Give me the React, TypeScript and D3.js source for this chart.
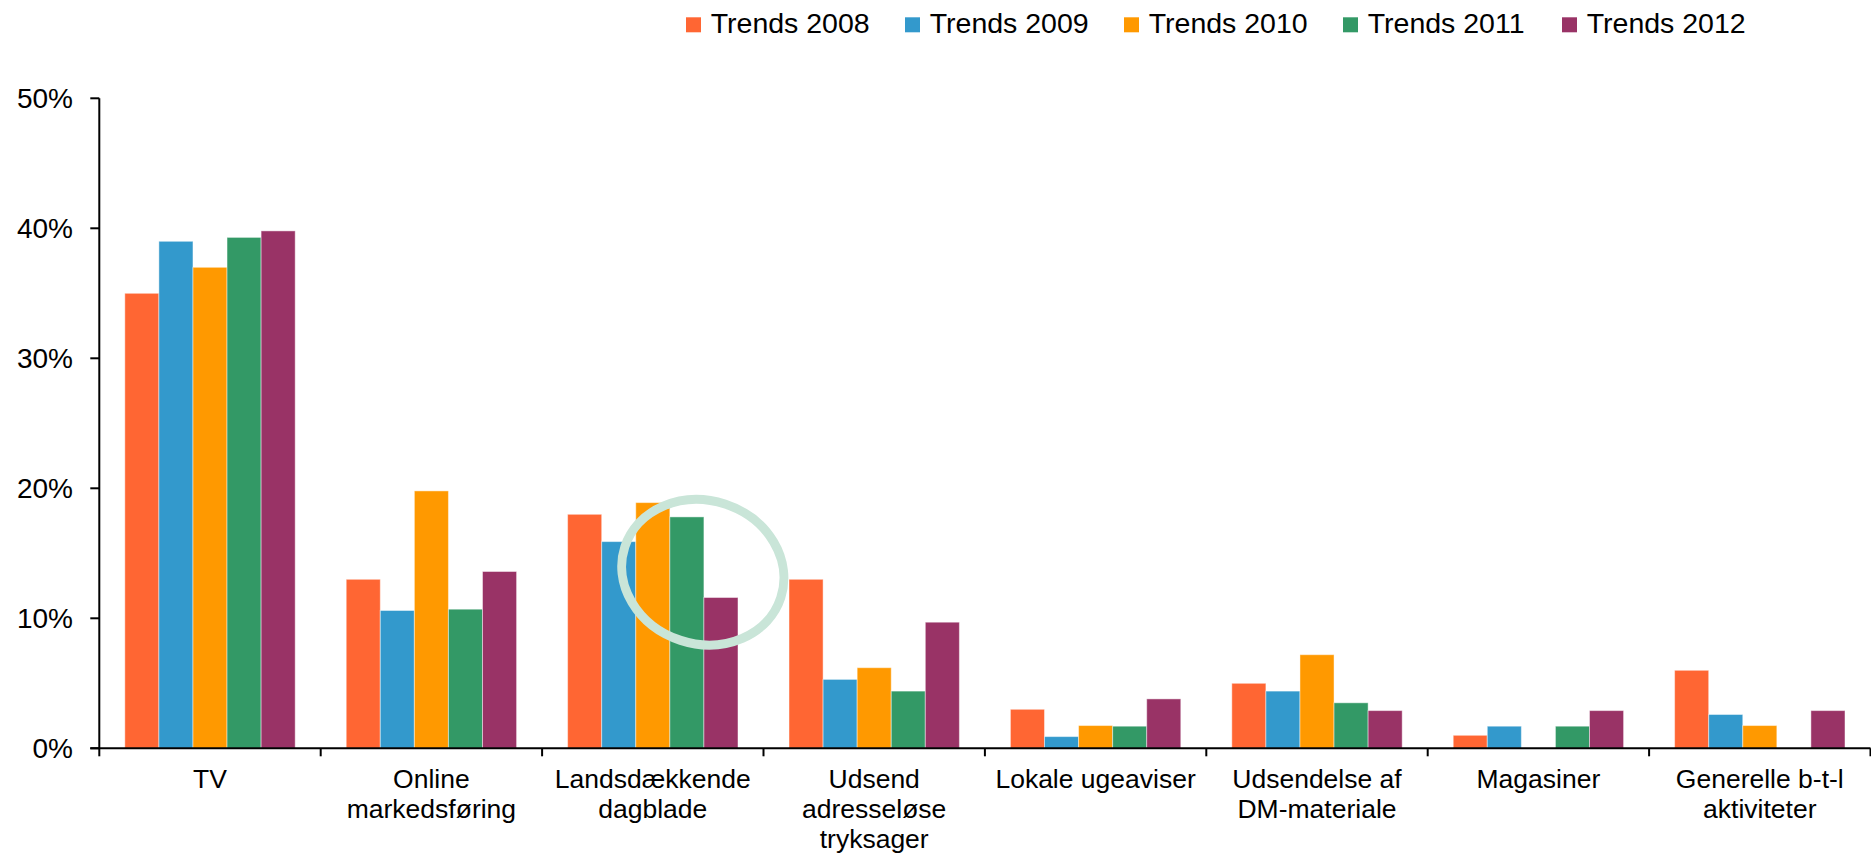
import React from "react";
import * as d3 from "d3";

const categories: string[][] = [
  ["TV"],
  ["Online", "markedsføring"],
  ["Landsdækkende", "dagblade"],
  ["Udsend", "adresseløse", "tryksager"],
  ["Lokale ugeaviser"],
  ["Udsendelse af", "DM-materiale"],
  ["Magasiner"],
  ["Generelle b-t-l", "aktiviteter"],
];

const seriesNames = ["Trends 2008", "Trends 2009", "Trends 2010", "Trends 2011", "Trends 2012"];
const seriesColors = ["#FF6633", "#3399CC", "#FF9900", "#339966", "#993366"];

const trends2008 = [35, 13, 18, 13, 3, 5, 1, 6];
const trends2009 = [39, 10.6, 15.9, 5.3, 0.9, 4.4, 1.7, 2.6];
const trends2010 = [37, 19.8, 18.9, 6.2, 1.75, 7.2, 0, 1.75];
const trends2011 = [39.3, 10.7, 17.8, 4.4, 1.7, 3.5, 1.7, 0];
const trends2012 = [39.8, 13.6, 11.6, 9.7, 3.8, 2.9, 2.9, 2.9];

const seriesValues = [trends2008, trends2009, trends2010, trends2011, trends2012];
const yTicks = [0, 10, 20, 30, 40, 50];

const W = 1871;
const H = 856;
const x0 = 99.3;
const x1 = 1870.5;
const yBottom = 748.3;
const yTop = 98.3;
const FONT = "'Liberation Sans', Arial, Helvetica, sans-serif";

export default function App() {
  const idx = categories.map((_, i) => String(i));
  const x = d3.scaleBand<string>().domain(idx).range([x0, x1]).paddingInner(0.2305).paddingOuter(0.11525);
  const xs = d3.scaleBand<string>().domain(seriesNames).range([0, x.bandwidth()]);
  const y = d3.scaleLinear().domain([0, 50]).range([yBottom, yTop]);
  const step = (x1 - x0) / categories.length;
  const tickXs = d3.range(categories.length + 1).map((i) => x0 + i * step);

  return (
    <svg width={W} height={H} style={{ position: "absolute", left: 0, top: 0, background: "#fff" }} fontFamily={FONT}>
      <rect width={W} height={H} fill="#fff" />
      {/* bars */}
      {categories.map((_, ci) => (
        <g key={ci} transform={`translate(${x(String(ci))},0)`}>
          {seriesNames.map((s, si) => {
            const v = seriesValues[si][ci];
            if (!v) return null;
            return (
              <rect
                key={s}
                x={xs(s)}
                y={y(v)}
                width={xs.bandwidth()}
                height={yBottom - y(v)}
                fill={seriesColors[si]}
                stroke="rgba(255,255,255,0.45)"
                strokeWidth={1}
              />
            );
          })}
        </g>
      ))}
      {/* y axis */}
      <line x1={x0} x2={x0} y1={yTop} y2={yBottom} stroke="#000" strokeWidth={2} />
      {yTicks.map((t) => (
        <g key={t}>
          <line x1={x0 - 9} x2={x0} y1={y(t)} y2={y(t)} stroke="#000" strokeWidth={2} />
          <text x={73} y={y(t)} dy="0.36em" textAnchor="end" fontSize={28} fill="#000">
            {t}%
          </text>
        </g>
      ))}
      {/* x axis */}
      <line x1={x0 - 9} x2={x1} y1={yBottom} y2={yBottom} stroke="#000" strokeWidth={2} />
      {tickXs.map((tx, i) => (
        <line key={i} x1={tx} x2={tx} y1={yBottom} y2={yBottom + 8} stroke="#000" strokeWidth={2} />
      ))}
      {categories.map((lines, ci) => (
        <text key={ci} textAnchor="middle" fontSize={26.5} fill="#000">
          {lines.map((ln, li) => (
            <tspan key={li} x={(x(String(ci)) as number) + x.bandwidth() / 2} y={788.3 + li * 30}>
              {ln}
            </tspan>
          ))}
        </text>
      ))}
      {/* annotation ellipse */}
      <ellipse
        cx={702.8}
        cy={572.2}
        rx={82}
        ry={71.7}
        transform="rotate(18 702.8 572.2)"
        fill="none"
        stroke="#C9E5D8"
        strokeWidth={9}
      />
      {/* legend */}
      {seriesNames.map((s, i) => (
        <g key={s} transform={`translate(${686 + i * 219},0)`}>
          <rect x={0} y={17.3} width={15} height={15} fill={seriesColors[i]} />
          <text x={24.7} y={33.3} fontSize={28.5} fill="#000">
            {s}
          </text>
        </g>
      ))}
    </svg>
  );
}
